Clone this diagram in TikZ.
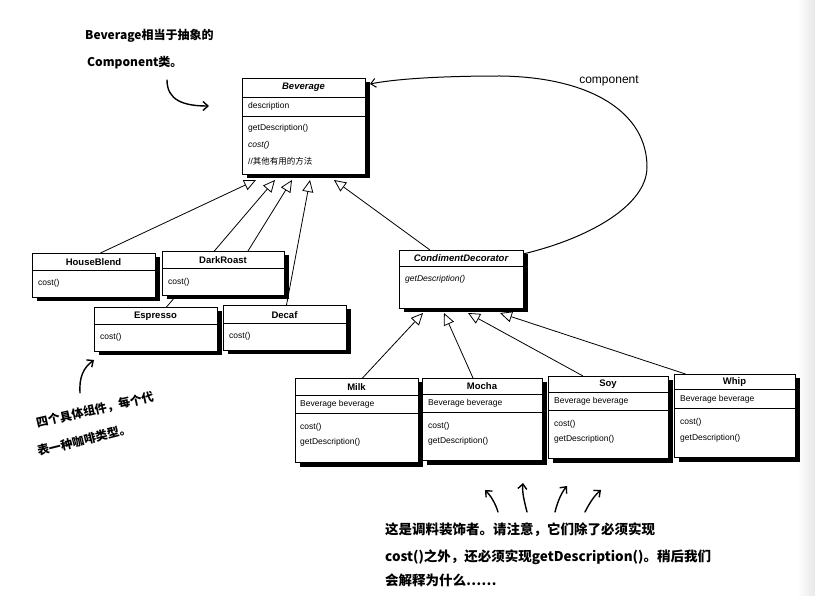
\documentclass[tikz,border=0pt]{standalone}
\usepackage{fontspec}
\setmainfont{Liberation Sans}
\newfontfamily\cjk{Noto Sans CJK SC}
\usetikzlibrary{arrows.meta,calc,backgrounds}
\tikzset{
  umlbox/.style={draw, fill=white, line width=0.8pt, inner sep=0pt, outer sep=0pt, anchor=north west,
    preaction={fill=black, transform canvas={xshift=4.5pt,yshift=-4.5pt}}},
  sepline/.style={line width=0.7pt},
  ttl/.style={font=\fontsize{9.5}{10}\selectfont\bfseries, inner sep=0pt},
  mem/.style={font=\fontsize{8.5}{10}\selectfont, inner sep=0pt, anchor=west},
  gen/.style={line width=0.8pt, -{Triangle[length=12pt, width=11pt, fill=white]}},
  assoc/.style={line width=1pt, -{Straight Barb[length=5pt, width=9pt]}},
  hand/.style={line width=1.4pt, line cap=round, -{Straight Barb[length=5pt, width=9pt]}},
  note/.style={font=\cjk\bfseries\fontsize{12}{14}\selectfont, inner sep=0pt},
  noteb/.style={font=\cjk\bfseries\fontsize{13.5}{15}\selectfont, inner sep=0pt, anchor=west},
}
\begin{document}
\begin{tikzpicture}[x=1pt, y=-1pt]
\useasboundingbox (0,0) rectangle (815,596);

% ---------- Beverage ----------
\node[umlbox, minimum width=123pt, minimum height=96pt] (bev) at (242,78) {};
\draw[sepline] ($(bev.north west)+(0,19)$) -- ($(bev.north east)+(0,19)$);
\draw[sepline] ($(bev.north west)+(0,38)$) -- ($(bev.north east)+(0,38)$);
\node[ttl] (bevT) at ($(bev.north)+(0,9.5)$) {\itshape Beverage};
\node[mem] (bevA) at (248,106) {description};
\node[mem] (bevM1) at (248,128) {getDescription()};
\node[mem] (bevM2) at (248,145) {\itshape cost()};
\node[mem] (bevM3) at (248,161) {//{\cjk 其他有用的方法}};

% ---------- concrete components ----------
\node[umlbox, minimum width=123pt, minimum height=44pt] (hb) at (32,253) {};
\draw[sepline] ($(hb.north west)+(0,17)$) -- ($(hb.north east)+(0,17)$);
\node[ttl] (hbT) at ($(hb.north)+(0,9.5)$) {HouseBlend};
\node[mem] (hbM) at (38,283) {cost()};

\node[umlbox, minimum width=122pt, minimum height=44pt] (dr) at (162,251) {};
\draw[sepline] ($(dr.north west)+(0,17)$) -- ($(dr.north east)+(0,17)$);
\node[ttl] (drT) at ($(dr.north)+(0,9.5)$) {DarkRoast};
\node[mem] (drM) at (168,282) {cost()};

\node[umlbox, minimum width=123pt, minimum height=44pt] (es) at (94,307) {};
\draw[sepline] ($(es.north west)+(0,17)$) -- ($(es.north east)+(0,17)$);
\node[ttl] (esT) at ($(es.north)+(0,9.5)$) {Espresso};
\node[mem] (esM) at (100,337) {cost()};

\node[umlbox, minimum width=123pt, minimum height=45pt] (dc) at (223,305) {};
\draw[sepline] ($(dc.north west)+(0,18)$) -- ($(dc.north east)+(0,18)$);
\node[ttl] (dcT) at ($(dc.north)+(0,10)$) {Decaf};
\node[mem] (dcM) at (229,336) {cost()};

% ---------- CondimentDecorator ----------
\node[umlbox, minimum width=124pt, minimum height=58pt] (cd) at (399,250) {};
\draw[sepline] ($(cd.north west)+(0,16)$) -- ($(cd.north east)+(0,16)$);
\node[ttl] (cdT) at ($(cd.north)+(0,8.5)$) {\itshape CondimentDecorator};
\node[mem] (cdM) at (405,279) {\itshape getDescription()};

% ---------- condiments ----------
\node[umlbox, minimum width=123pt, minimum height=84pt] (mk) at (295,378) {};
\draw[sepline] ($(mk.north west)+(0,17)$) -- ($(mk.north east)+(0,17)$);
\draw[sepline] ($(mk.north west)+(0,35)$) -- ($(mk.north east)+(0,35)$);
\node[ttl] (mkT) at ($(mk.north)+(0,9)$) {Milk};
\node[mem] (mkA) at (300,404) {Beverage beverage};
\node[mem] (mkM1) at (300,427) {cost()};
\node[mem] (mkM2) at (300,442) {getDescription()};

\node[umlbox, minimum width=120pt, minimum height=82pt] (mo) at (422,378) {};
\draw[sepline] ($(mo.north west)+(0,16)$) -- ($(mo.north east)+(0,16)$);
\draw[sepline] ($(mo.north west)+(0,34)$) -- ($(mo.north east)+(0,34)$);
\node[ttl] (moT) at ($(mo.north)+(0,8.5)$) {Mocha};
\node[mem] (moA) at (428,403) {Beverage beverage};
\node[mem] (moM1) at (428,426) {cost()};
\node[mem] (moM2) at (428,441) {getDescription()};

\node[umlbox, minimum width=120pt, minimum height=82pt] (so) at (548,376) {};
\draw[sepline] ($(so.north west)+(0,16)$) -- ($(so.north east)+(0,16)$);
\draw[sepline] ($(so.north west)+(0,34)$) -- ($(so.north east)+(0,34)$);
\node[ttl] (soT) at ($(so.north)+(0,8.5)$) {Soy};
\node[mem] (soA) at (554,401) {Beverage beverage};
\node[mem] (soM1) at (554,424) {cost()};
\node[mem] (soM2) at (554,439) {getDescription()};

\node[umlbox, minimum width=121pt, minimum height=83pt] (wh) at (674,374) {};
\draw[sepline] ($(wh.north west)+(0,15)$) -- ($(wh.north east)+(0,15)$);
\draw[sepline] ($(wh.north west)+(0,34)$) -- ($(wh.north east)+(0,34)$);
\node[ttl] (whT) at ($(wh.north)+(0,8)$) {Whip};
\node[mem] (whA) at (680,399) {Beverage beverage};
\node[mem] (whM1) at (680,422) {cost()};
\node[mem] (whM2) at (680,438) {getDescription()};

% ---------- connector end points ----------
\coordinate (t1) at (256,180);
\coordinate (t2) at (275,180);
\coordinate (t3) at (292,180);
\coordinate (t4) at (310,180);
\coordinate (t5) at (334,180);
\coordinate (c1) at (423,313);
\coordinate (c2) at (444,313);
\coordinate (c3) at (468,313);
\coordinate (c4) at (500,313);
\coordinate (bevR) at (370,84);

\begin{pgfonlayer}{background}
  \fill[white] (0,0) rectangle (815,596);
  \shade[left color=white, right color=black!9] (797,0) rectangle (815,596);
  \draw[gen] ($(hb.north)+(7,0)$) -- (t1);
  \draw[gen] ($(es.north)+(11,0)$) -- (t2);
  \draw[gen] ($(dr.north)+(25,0)$) -- (t3);
  \draw[gen] ($(dc.north)+(2,0)$) -- (t4);
  \draw[gen] ($(cd.north)+(-31,0)$) -- (t5);
  \draw[gen] ($(mk.north)+(6,0)$) -- (c1);
  \draw[gen] ($(mo.north)+(-9,0)$) -- (c2);
  \draw[gen] ($(so.north)+(-25,0)$) -- (c3);
  \draw[gen] ($(wh.north)+(-49,0)$) -- (c4);
  % component association loop
  \draw[assoc] ($(cd.north east)+(0,4)$) .. controls (590,238) and (647,205) .. (647,167)
     .. controls (647,112) and (590,77) .. (500,76)
     .. controls (440,76) and (395,79) .. (bevR);
\end{pgfonlayer}
\node[font=\fontsize{12}{14}\selectfont, inner sep=0pt] (complbl) at (609,81) {component};

% ---------- annotations ----------
\node[note, anchor=west] (n1a) at (85,36) {Beverage相当于抽象的};
\node[note, anchor=west] (n1b) at (87,63) {Component类。};
\coordinate (a1s) at (167,80);
\coordinate (a1e) at (209,106);
\draw[hand] (a1s) .. controls (167,100) and (183,106) .. (a1e);

\node[note, rotate=13] (n2a) at (95,410) {四个具体组件，每个代};
\node[note, rotate=14] (n2b) at (84,440) {表一种咖啡类型。};
\coordinate (a2s) at (80,393);
\coordinate (a2e) at (94,360);
\draw[hand] (a2s) .. controls (79,378) and (83,368) .. (a2e);

\node[noteb] (n3a) at (385,530) {这是调料装饰者。请注意，它们除了必须实现};
\node[noteb] (n3b) at (385,557) {\itshape cost()之外，还必须实现getDescription()。稍后我们};
\node[noteb] (n3c) at (385,580) {会解释为什么……};
\coordinate (b1s) at (498,512); \coordinate (b1e) at (485,490);
\coordinate (b2s) at (527,512); \coordinate (b2e) at (523,483);
\coordinate (b3s) at (555,512); \coordinate (b3e) at (567,486);
\coordinate (b4s) at (585,512); \coordinate (b4e) at (601,490);
\draw[hand] (b1s) .. controls (495,502) and (490,495) .. (b1e);
\draw[hand] (b2s) .. controls (524,500) and (522,492) .. (b2e);
\draw[hand] (b3s) .. controls (558,500) and (562,492) .. (b3e);
\draw[hand] (b4s) .. controls (590,502) and (595,495) .. (b4e);
\end{tikzpicture}
\end{document}
